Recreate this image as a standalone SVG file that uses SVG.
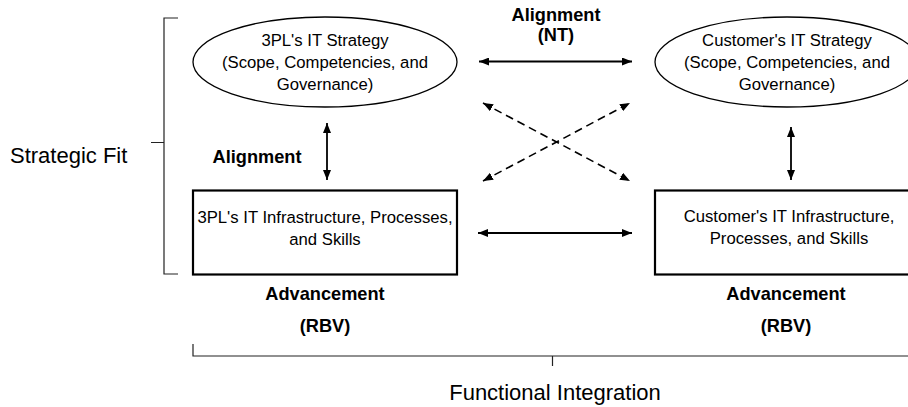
<svg xmlns="http://www.w3.org/2000/svg" width="908" height="407" viewBox="0 0 908 407">
<defs>
<marker id="ah" viewBox="0 0 10 8" refX="10" refY="4" markerWidth="10" markerHeight="8" markerUnits="userSpaceOnUse" orient="auto-start-reverse">
<path d="M0,0 L10,4 L0,8 Z" fill="#000"/>
</marker>
</defs>
<style>
text{font-family:"Liberation Sans",Arial,sans-serif;fill:#000}
.n{font-size:16.7px;text-anchor:middle}
.b{font-size:18.2px;font-weight:bold;text-anchor:middle}
.big{font-size:22px}
.shape{fill:#fff;stroke:#000}
.el{stroke-width:1.3}
.bx{stroke-width:2.2}
.br{fill:none;stroke:#222;stroke-width:1.2}
.c{fill:none;stroke:#000;stroke-width:1.8;marker-start:url(#ah);marker-end:url(#ah)}
.d{stroke-dasharray:8 5;stroke-width:1.6}
</style>
<g id="brackets">
<path class="br" d="M178,18 H164 V274 H178 M151,142.5 H164"/>
<path class="br" d="M193,344 V356 H908 M552.5,356 V366"/>
</g>
<g id="label-strategic-fit"><text class="big" x="10" y="163">Strategic Fit</text></g>
<g id="label-functional-integration"><text class="big" x="555" y="400" text-anchor="middle">Functional Integration</text></g>
<g id="n-3pl-strategy">
<ellipse class="shape el" cx="325" cy="62" rx="132" ry="45"/>
<text class="n" x="325" y="46">3PL's IT Strategy</text>
<text class="n" x="325" y="68">(Scope, Competencies, and</text>
<text class="n" x="325" y="90">Governance)</text>
</g>
<g id="n-cust-strategy">
<ellipse class="shape el" cx="787" cy="62" rx="132" ry="45"/>
<text class="n" x="787" y="46">Customer's IT Strategy</text>
<text class="n" x="787" y="68">(Scope, Competencies, and</text>
<text class="n" x="787" y="90">Governance)</text>
</g>
<g id="n-3pl-infra">
<rect class="shape bx" x="193" y="190.5" width="264" height="84"/>
<text class="n" x="325" y="223">3PL's IT Infrastructure, Processes,</text>
<text class="n" x="325" y="245">and Skills</text>
</g>
<g id="n-cust-infra">
<rect class="shape bx" x="655" y="190.5" width="264" height="84"/>
<text class="n" x="789" y="222">Customer's IT Infrastructure,</text>
<text class="n" x="789" y="244">Processes, and Skills</text>
</g>
<g id="labels">
<text class="b" x="556" y="21">Alignment</text>
<text class="b" x="556" y="41">(NT)</text>
<text class="b" x="257" y="163">Alignment</text>
<text class="b" x="325" y="300">Advancement</text>
<text class="b" x="325" y="332">(RBV)</text>
<text class="b" x="786" y="300">Advancement</text>
<text class="b" x="786" y="332">(RBV)</text>
</g>
<g id="connectors">
<line class="c" x1="479" y1="61.5" x2="632" y2="61.5"/>
<line class="c" x1="478" y1="233" x2="632" y2="233"/>
<line class="c" x1="327" y1="123" x2="327" y2="180"/>
<line class="c" x1="791" y1="127" x2="791" y2="180"/>
<line class="c d" x1="483" y1="103" x2="630" y2="181"/>
<line class="c d" x1="483" y1="181" x2="630" y2="103"/>
</g>
</svg>
